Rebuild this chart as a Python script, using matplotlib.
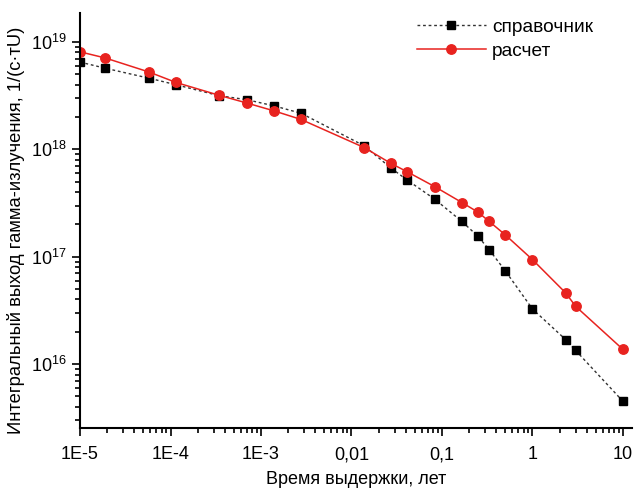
import matplotlib
matplotlib.use("Agg")
import matplotlib.pyplot as plt
from matplotlib.ticker import FixedLocator, LogLocator, NullFormatter

plt.rcParams['font.family'] = ['Liberation Sans', 'DejaVu Sans']
plt.rcParams['mathtext.fontset'] = 'custom'
plt.rcParams['mathtext.rm'] = 'Liberation Sans'

# время выдержки, лет
t_years = [1e-5, 1.9e-5, 5.8e-5, 1.15e-4, 3.4e-4, 7e-4, 1.4e-3, 2.77e-3,
           0.0138, 0.0273, 0.041, 0.083, 0.166, 0.25, 0.333, 0.5,
           1.0, 2.33, 3.0, 10.0]
# справочные данные
y_ref = [6.5e18, 5.7e18, 4.6e18, 4.0e18, 3.17e18, 2.9e18, 2.54e18, 2.17e18,
         1.08e18, 6.7e17, 5.2e17, 3.44e17, 2.13e17, 1.55e17, 1.16e17, 7.4e16,
         3.26e16, 1.69e16, 1.34e16, 4.5e15]
# расчет
y_calc = [8.1e18, 7.1e18, 5.25e18, 4.2e18, 3.2e18, 2.7e18, 2.28e18, 1.9e18,
          1.04e18, 7.4e17, 6.2e17, 4.5e17, 3.2e17, 2.6e17, 2.13e17, 1.6e17,
          9.4e16, 4.6e16, 3.45e16, 1.37e16]

x_ticks = [1e-5, 1e-4, 1e-3, 1e-2, 1e-1, 1, 10]
x_ticklabels = ["1E-5", "1E-4", "1E-3", "0,01", "0,1", "1", "10"]
y_ticks = [1e16, 1e17, 1e18, 1e19]
y_ticklabels = [r"$10^{16}$", r"$10^{17}$", r"$10^{18}$", r"$10^{19}$"]

fig = plt.figure(figsize=(6.34, 4.91), dpi=100)
ax = fig.add_axes([0.1262, 0.1283, 0.8707, 0.8452])

ax.plot(t_years, y_ref, color='#333333', lw=1, linestyle=(0, (2, 2)),
        marker='s', markersize=5.5, markerfacecolor='black',
        markeredgecolor='black', label='справочник')
ax.plot(t_years, y_calc, color='#e8231f', lw=1.1, linestyle='-',
        marker='o', markersize=6.8, markerfacecolor='#e8231f',
        markeredgecolor='#e8231f', label='расчет')

ax.set_xscale('log')
ax.set_yscale('log')
ax.set_xlim(1e-5, 10**1.1)
ax.set_ylim(10**15.405, 10**19.27)

ax.xaxis.set_major_locator(FixedLocator(x_ticks))
ax.set_xticklabels(x_ticklabels)
ax.xaxis.set_minor_locator(LogLocator(base=10, subs=range(2, 10), numticks=20))
ax.xaxis.set_minor_formatter(NullFormatter())
ax.yaxis.set_major_locator(FixedLocator(y_ticks))
ax.set_yticklabels(y_ticklabels)
ax.yaxis.set_minor_locator(LogLocator(base=10, subs=range(2, 10), numticks=20))
ax.yaxis.set_minor_formatter(NullFormatter())

ax.tick_params(which='major', direction='out', length=6, width=1.2,
               labelsize=13, colors='black')
ax.tick_params(axis='x', which='major', pad=7)
ax.tick_params(which='minor', direction='out', length=3.5, width=1.2)
for side in ('top', 'right'):
    ax.spines[side].set_visible(False)
for side in ('left', 'bottom'):
    ax.spines[side].set_linewidth(1.5)

ax.set_xlabel("Время выдержки, лет", fontsize=13, labelpad=6)
ax.set_ylabel("Интегральный выход гамма-излучения, 1/(с·тU)", fontsize=13.2)
ax.yaxis.set_label_coords(-0.100, 0.477)

ax.legend(loc='upper left', bbox_to_anchor=(0.657, 0.962),
          bbox_transform=fig.transFigure, frameon=False, fontsize=13.8,
          handlelength=3.6, handletextpad=0.35, borderaxespad=0, borderpad=0,
          labelspacing=0.35)

fig.savefig("out.png", dpi=100)
